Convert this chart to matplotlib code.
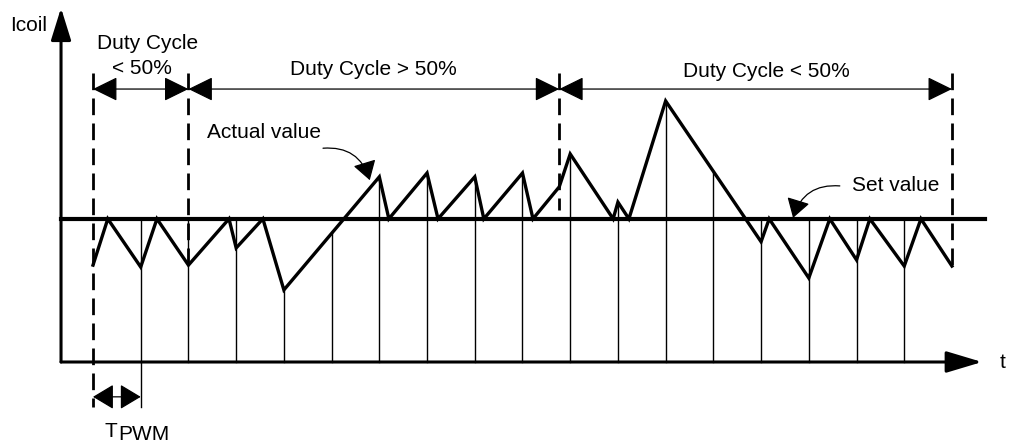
import numpy as np
import matplotlib
matplotlib.use("Agg")
import matplotlib.pyplot as plt
from matplotlib.patches import FancyArrowPatch

plt.rcParams['font.family'] = ['Liberation Sans', 'DejaVu Sans']

# time in PWM periods, current in arbitrary units
set_value = 3.0
wave_t = [0, 0.31, 1, 1.34, 2, 2.85, 3, 3.56, 4, 6, 6.2, 7, 7.23, 8, 8.19, 9,
          9.22, 9.77, 10, 10.9, 11, 11.23, 12, 14, 14.17, 15, 15.44, 16, 16.28,
          17, 17.35, 18]
wave_i = [2.03, 3.0, 1.99, 3.0, 2.03, 3.0, 2.39, 3.0, 1.51, 3.88, 3.0, 3.96,
          3.0, 3.88, 3.0, 3.96, 3.0, 3.67, 4.36, 3.0, 3.35, 3.0, 5.47, 2.52,
          3.0, 1.76, 3.0, 2.14, 3.0, 2.01, 3.0, 2.01]
pwm_ticks = list(range(1, 18))
wave_tops = list(range(4, 14))  # grid lines that stop at the waveform
region_edges = [0, 2, 9.77, 18]
region_labels = ['Duty Cycle', 'Duty Cycle > 50%', 'Duty Cycle < 50%']

px = 47.72  # pixels per unit
fig = plt.figure(figsize=(10.09, 4.45), dpi=100)
ax = fig.add_axes([0, 0, 1, 1])
ax.set_xlim(-93 / px, (1009 - 93) / px)
ax.set_ylim(-(445 - 362) / px, 362 / px)
ax.axis('off')

x0 = -0.67
dim_y = 5.72
top_y = 6.06

# pwm grid
for t in pwm_ticks:
    top = np.interp(t, wave_t, wave_i) if t in wave_tops else set_value
    ax.plot([t, t], [0, top], color='black', lw=1.0)

# set value + waveform
ax.plot([x0, 18.69], [set_value, set_value], color='black', lw=3.0)
ax.plot(wave_t, wave_i, color='black', lw=2.4, solid_joinstyle='miter')

# axes with arrows
def arrow(p1, p2, style, ms, lw, **kw):
    a = FancyArrowPatch(p1, p2, arrowstyle=style, mutation_scale=ms, lw=lw,
                        color='black', shrinkA=0, shrinkB=0, **kw)
    ax.add_patch(a)

arrow((x0, 0), (x0, 7.42), '-|>,head_length=0.9,head_width=0.28', 22, 2.2)
arrow((x0, 0), (18.63, 0), '-|>,head_length=1.0,head_width=0.3', 22, 2.2)

# dashed region borders
dash_bottom = [-0.94, np.interp(2, wave_t, wave_i), 3.19,
               np.interp(18, wave_t, wave_i)]
for t, b in zip(region_edges, dash_bottom):
    ax.plot([t, t], [top_y, b], color='black', lw=2.0, dashes=(6, 3))

for i in range(3):
    arrow((region_edges[i], dim_y), (region_edges[i + 1], dim_y),
          '<|-|>,head_length=0.55,head_width=0.27', 28, 0.9)

ax.text(1.15, 6.68, region_labels[0], ha='center', va='center', fontsize=15)
ax.text(1.03, 6.16, '< 50%', ha='center', va='center', fontsize=15)
ax.text(5.87, 6.12, region_labels[1], ha='center', va='center', fontsize=15)
ax.text(14.12, 6.08, region_labels[2], ha='center', va='center', fontsize=15)

# T_PWM
ax.plot([1, 1], [0, -0.94], color='black', lw=1.0)
arrow((0, -0.73), (1, -0.73), '<|-|>,head_length=0.5,head_width=0.3', 26, 0.9)
ax.text(0.38, -1.57, 'T', ha='center', va='baseline', fontsize=15)
ax.text(1.07, -1.63, 'PWM', ha='center', va='baseline', fontsize=15)

# labels
ax.text(-0.97, 7.06, 'Icoil', ha='right', va='center', fontsize=15)
ax.text(19.05, 0, 't', ha='center', va='center', fontsize=15)
ax.text(3.58, 4.80, 'Actual value', ha='center', va='center', fontsize=15)
ax.text(16.83, 3.69, 'Set value', ha='center', va='center', fontsize=15)

arrow((4.82, 4.48), (5.80, 3.81), '-|>,head_length=0.45,head_width=0.28', 26,
      0.9, connectionstyle='arc3,rad=-0.4')
arrow((15.65, 3.69), (14.67, 3.02), '-|>,head_length=0.45,head_width=0.28', 26,
      0.9, connectionstyle='arc3,rad=0.4')

fig.savefig('out.png', dpi=100)
